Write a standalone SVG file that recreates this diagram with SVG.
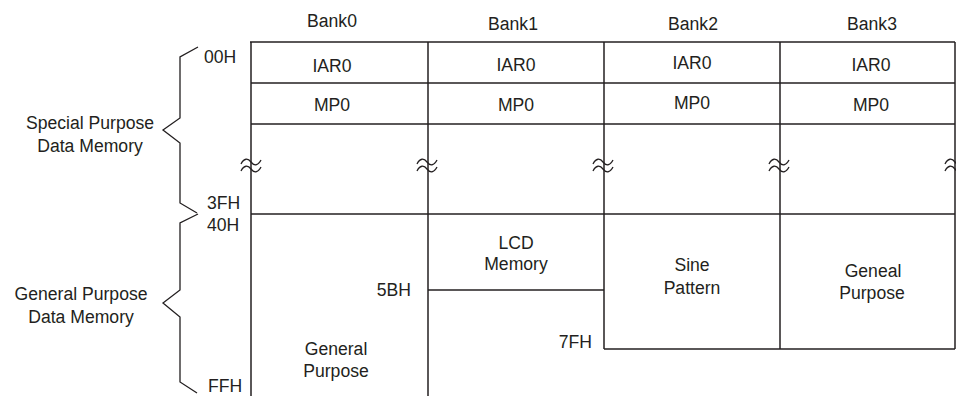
<svg xmlns="http://www.w3.org/2000/svg" width="956" height="396" viewBox="0 0 956 396">
<style>
text{font-family:"Liberation Sans",Arial,sans-serif;font-size:17.6px;fill:#231f20}
.m{text-anchor:middle}
.e{text-anchor:end}
.ln{stroke:#231f20;stroke-width:1.5;fill:none}
.br{stroke:#231f20;stroke-width:1.3;fill:none;stroke-linejoin:miter}
.sq{stroke:#231f20;stroke-width:1.3;fill:none}
</style>
<defs>
<g id="squig">
<path d="M-10,-1 C-7,-7 -3,-7 0,-3 S7,1 10,-5"/>
<path d="M-10,6 C-7,0 -3,0 0,4 S7,8 10,2"/>
</g>
</defs>
<rect width="956" height="396" fill="#fff"/>
<g id="bank-labels">
<text class="m" x="332" y="27">Bank0</text>
<text class="m" x="513" y="30">Bank1</text>
<text class="m" x="693" y="30">Bank2</text>
<text class="m" x="872" y="30">Bank3</text>
</g>
<g id="grid" class="ln">
<line x1="250" y1="42" x2="955" y2="42"/>
<line x1="251" y1="83" x2="955" y2="83"/>
<line x1="251" y1="124" x2="955" y2="124"/>
<line x1="251" y1="214" x2="955" y2="214"/>
<line x1="428" y1="290" x2="604" y2="290"/>
<line x1="604" y1="349" x2="955" y2="349"/>
<line x1="251" y1="42" x2="251" y2="396"/>
<line x1="428" y1="42" x2="428" y2="396"/>
<line x1="604" y1="42" x2="604" y2="349"/>
<line x1="780" y1="42" x2="780" y2="349"/>
<line x1="955" y1="42" x2="955" y2="349"/>
</g>
<g id="breaks" class="sq">
<use href="#squig" x="251" y="165"/>
<use href="#squig" x="427" y="165"/>
<use href="#squig" x="603" y="165"/>
<use href="#squig" x="779" y="165"/>
<use href="#squig" x="955" y="165"/>
</g>
<g id="bank0">
<text class="m" x="332" y="72">IAR0</text>
<text class="m" x="332" y="111">MP0</text>
<text class="m" x="336" y="355">General</text>
<text class="m" x="336" y="377">Purpose</text>
</g>
<g id="bank1">
<text class="m" x="516" y="71">IAR0</text>
<text class="m" x="516" y="111">MP0</text>
<text class="m" x="516" y="249">LCD</text>
<text class="m" x="516" y="270">Memory</text>
</g>
<g id="bank2">
<text class="m" x="692" y="69">IAR0</text>
<text class="m" x="692" y="109">MP0</text>
<text class="m" x="692" y="271">Sine</text>
<text class="m" x="692" y="294">Pattern</text>
</g>
<g id="bank3">
<text class="m" x="871" y="71">IAR0</text>
<text class="m" x="871" y="111">MP0</text>
<text class="m" x="873" y="277">Geneal</text>
<text class="m" x="872" y="299">Purpose</text>
</g>
<g id="addresses">
<text x="204" y="63">00H</text>
<text x="207" y="209">3FH</text>
<text x="207" y="231">40H</text>
<text x="208" y="392">FFH</text>
<text class="e" x="411" y="296">5BH</text>
<text class="e" x="592" y="348">7FH</text>
</g>
<g id="braces" class="br">
<path d="M198,47 L180,57 L180,118 L163,130 L180,143 L180,203 L197,213"/>
<path d="M198,214 L180,223 L180,290 L163,303 L180,317 L180,382 L197,393"/>
</g>
<g id="region-labels">
<text class="m" x="90" y="129">Special Purpose</text>
<text class="m" x="90" y="152">Data Memory</text>
<text class="m" x="81" y="300">General Purpose</text>
<text class="m" x="81" y="323">Data Memory</text>
</g>
</svg>
